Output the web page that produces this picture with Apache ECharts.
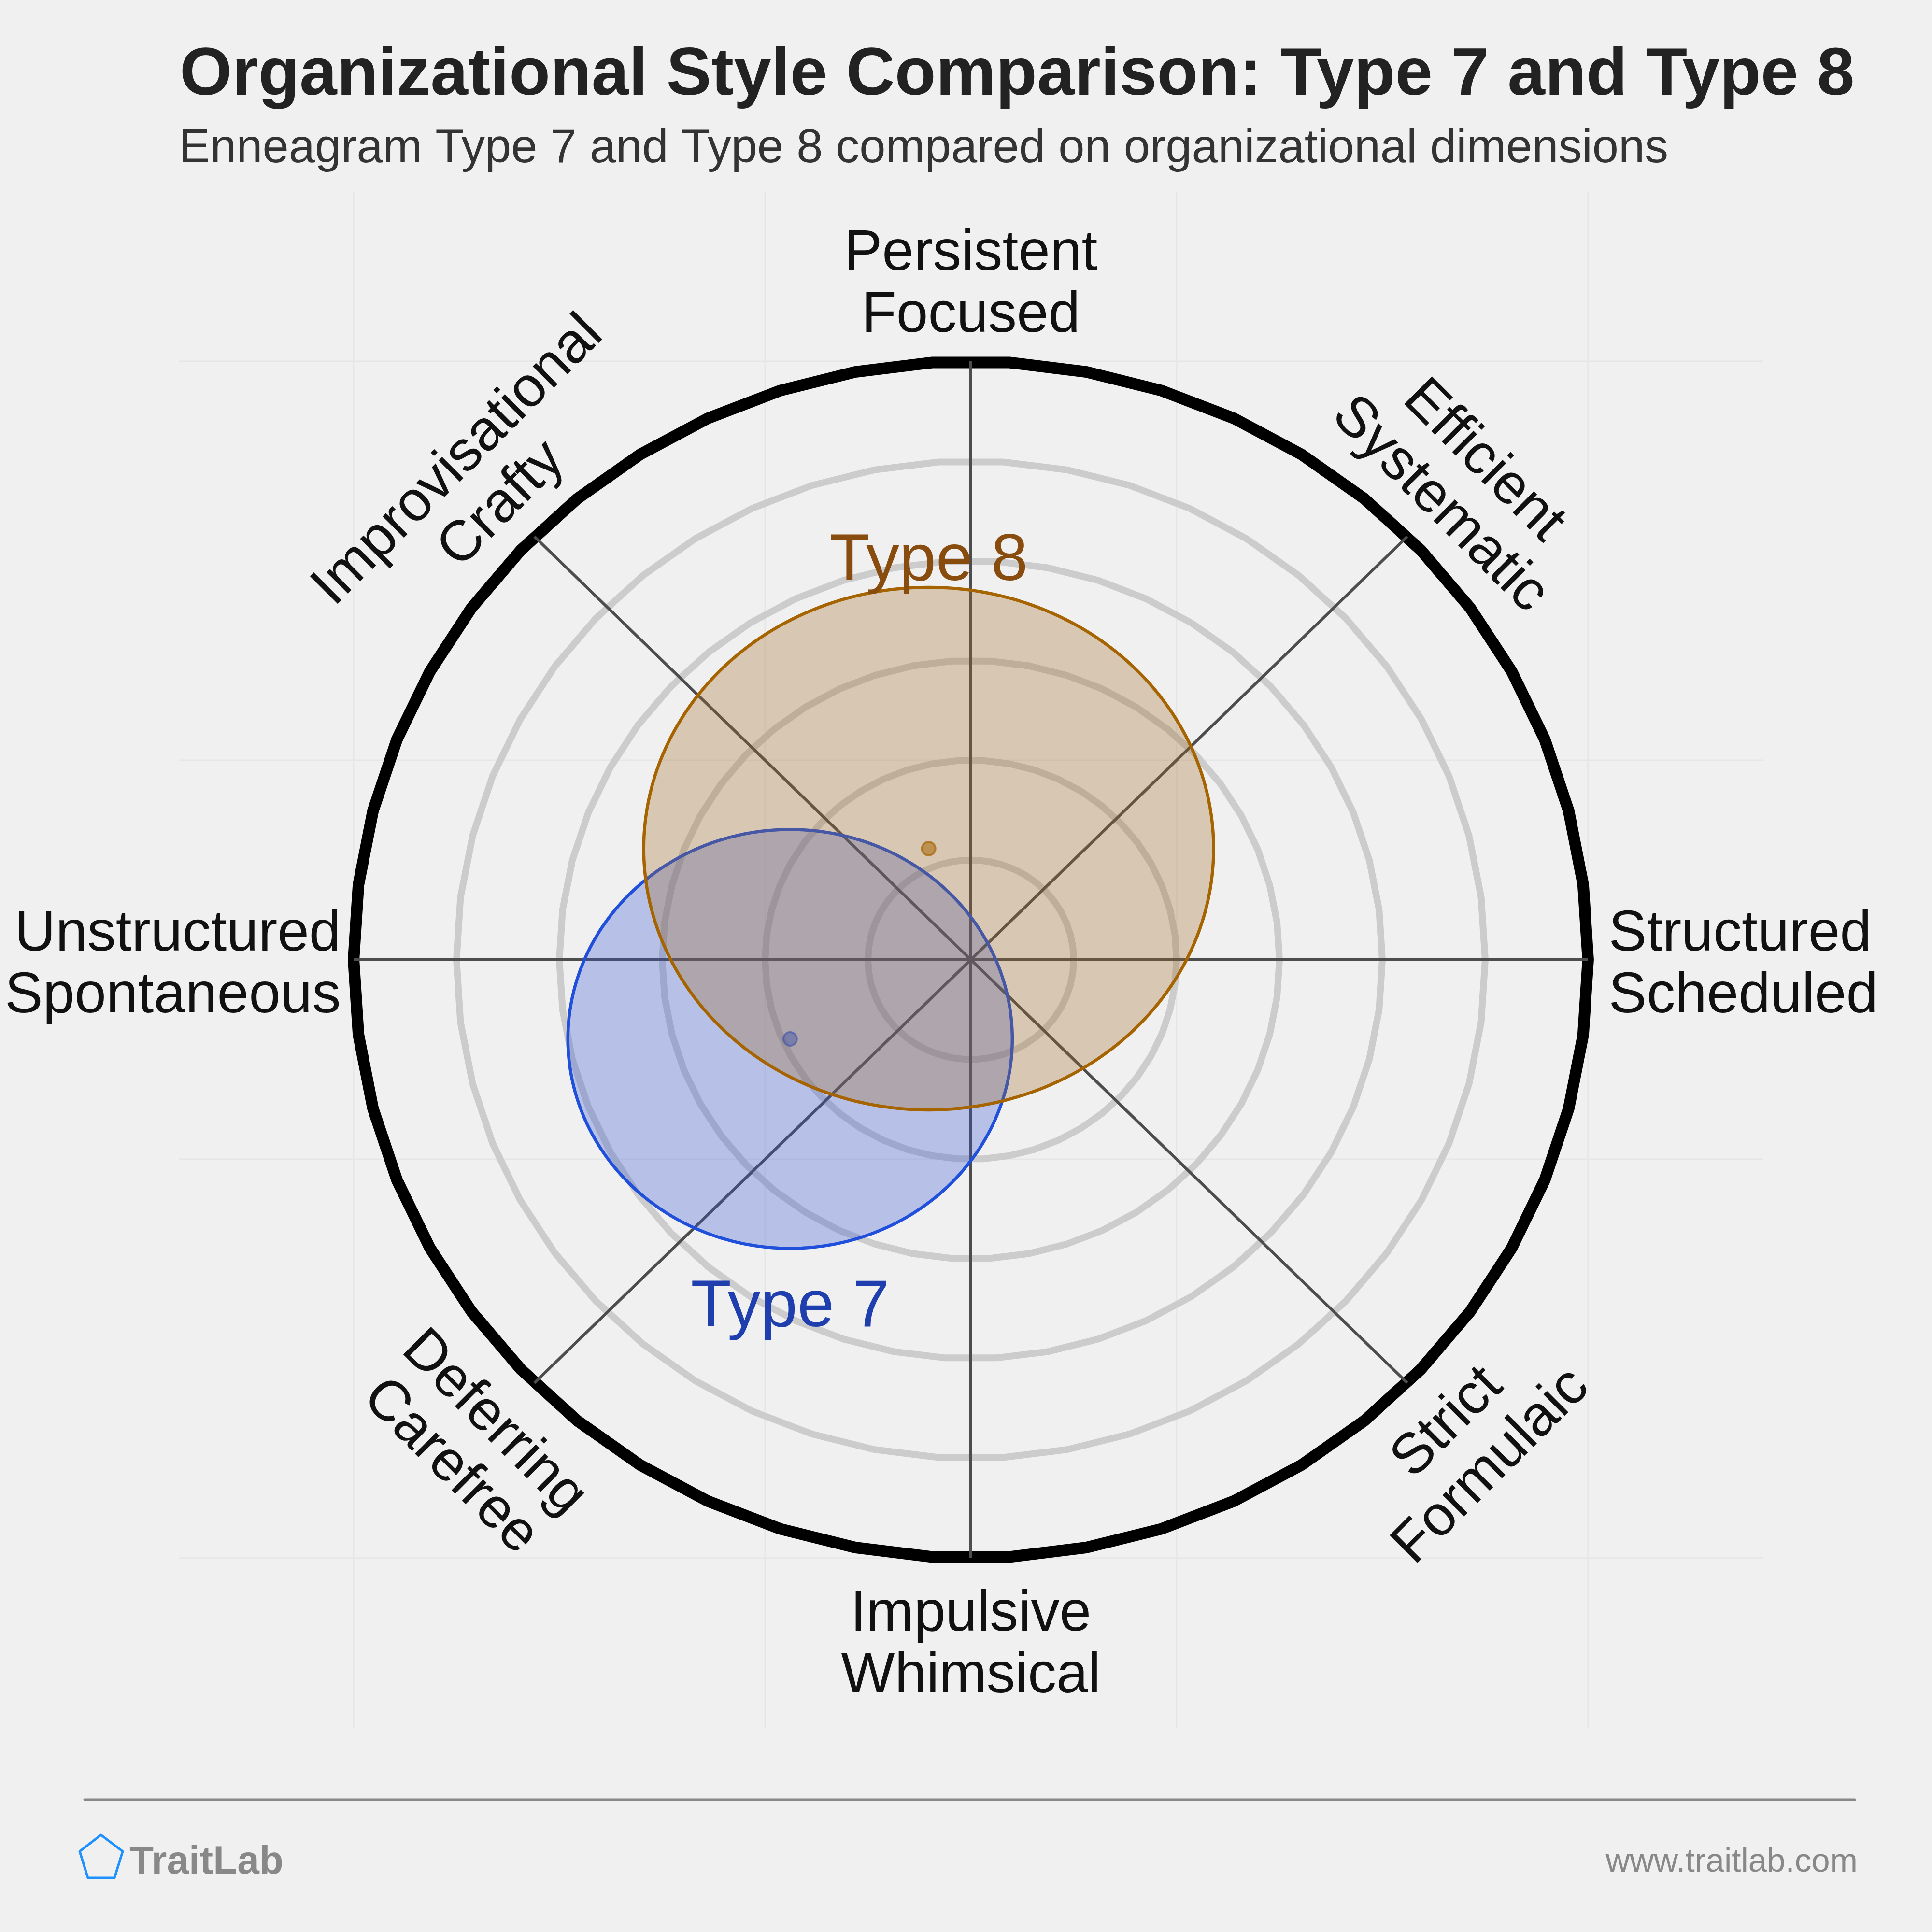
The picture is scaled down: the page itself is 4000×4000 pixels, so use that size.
<!DOCTYPE html>
<html>
<head>
<meta charset="utf-8">
<script src="https://cdn.jsdelivr.net/npm/echarts@6/dist/echarts.min.js"></script>
<style>
html,body{margin:0;padding:0;background:#f0f0f0;}
#chart{width:4000px;height:4000px;}
</style>
</head>
<body>
<div id="chart"></div>
<script>
// ---------------- data ----------------
const dimensionNames = [
  'Structured\nScheduled',
  'Efficient\nSystematic',
  'Persistent\nFocused',
  'Improvisational\nCrafty',
  'Unstructured\nSpontaneous',
  'Deferring\nCarefree',
  'Impulsive\nWhimsical',
  'Strict\nFormulaic'
];
const dimensionAngles = [0, 45, 90, 135, 180, 225, 270, 315];
const ringRadii = [1, 2, 3, 4, 5];
const outerRingRadius = [6];
const gridTickValues = [-6, -2, 2, 6];
const typeNames = ['Type 7', 'Type 8'];
const typeCenterX = [-1.757, -0.41];
const typeCenterY = [-0.794, 1.114];
const typeRadiusX = [2.16, 2.77];
const typeRadiusY = [2.10, 2.62];

// ---------------- style / layout ----------------
const AXIS_EXTENT = 7.7;
const LABEL_RADIUS = 6.2;
const RING_SEGMENTS = 50;
const TEXT_DROP = 12;
const LEFT_LABEL_NUDGE = 16;
const FONT = '"Liberation Sans", Arial, Helvetica, sans-serif';
const typeStyles = [
  {stroke: '#1f4fdb', fill: 'rgba(53,87,213,0.3)', dotFill: 'rgba(31,79,219,0.5)', dotStroke: 'rgba(31,79,219,0.65)', label: '#1f3fae', side: -1, gap: 124},
  {stroke: '#a66400', fill: 'rgba(160,107,40,0.3)', dotFill: 'rgba(166,100,0,0.55)', dotStroke: 'rgba(166,100,0,0.7)', label: '#874c0e', side: 1, gap: 53}
];

const chart = echarts.init(document.getElementById('chart'), null, {renderer: 'canvas'});

function ringRenderer(color, width) {
  return function (params, api) {
    const cx = api.value(0), cy = api.value(1), r = api.value(2);
    const pts = [];
    for (let k = 0; k < RING_SEGMENTS; k++) {
      const t = 2 * Math.PI * k / RING_SEGMENTS;
      pts.push(api.coord([cx + r * Math.cos(t), cy + r * Math.sin(t)]));
    }
    return {type: 'polygon', shape: {points: pts}, style: {fill: 'none', stroke: color, lineWidth: width}};
  };
}

function gridRenderer(params, api) {
  const v = api.value(0);
  const a = api.coord([v, -AXIS_EXTENT]), b = api.coord([v, AXIS_EXTENT]);
  const c = api.coord([-AXIS_EXTENT, v]), d = api.coord([AXIS_EXTENT, v]);
  const st = {stroke: '#e6e6e6', lineWidth: 3};
  return {type: 'group', children: [
    {type: 'line', shape: {x1: a[0], y1: a[1], x2: b[0], y2: b[1]}, style: st},
    {type: 'line', shape: {x1: c[0], y1: c[1], x2: d[0], y2: d[1]}, style: st}
  ]};
}

function axisRenderer(params, api) {
  const ang = api.value(2) * Math.PI / 180;
  const R = outerRingRadius[0];
  const s = api.coord([api.value(0), api.value(1)]);
  const e = api.coord([api.value(0) + R * Math.cos(ang), api.value(1) + R * Math.sin(ang)]);
  return {type: 'line', shape: {x1: s[0], y1: s[1], x2: e[0], y2: e[1]}, style: {stroke: '#4d4d4d', lineWidth: 6}};
}

function labelRenderer(params, api) {
  const deg = api.value(2);
  const ang = deg * Math.PI / 180;
  const p = api.coord([api.value(0) + LABEL_RADIUS * Math.cos(ang), api.value(1) + LABEL_RADIUS * Math.sin(ang)]);
  const s = Math.round(Math.sin(ang) * 1000) / 1000;
  const c = Math.round(Math.cos(ang) * 1000) / 1000;
  let align = 'center', vAlign = 'middle', rot = 0, dx = 0;
  if (s === 0) { align = c > 0 ? 'left' : 'right'; dx = c > 0 ? 0 : LEFT_LABEL_NUDGE; }
  else if (c === 0) { vAlign = s > 0 ? 'bottom' : 'top'; }
  else if (s > 0) { vAlign = 'bottom'; rot = (deg - 90) * Math.PI / 180; }
  else { vAlign = 'top'; rot = (deg - 270) * Math.PI / 180; }
  return {type: 'text', x: p[0] + dx, y: p[1], rotation: rot, style: {
    text: dimensionNames[params.dataIndex], x: 0, y: TEXT_DROP, align: align, verticalAlign: vAlign,
    fontFamily: FONT, fontSize: 118, lineHeight: 128, fill: '#111111'
  }};
}

function typeRenderer(idx) {
  const st = typeStyles[idx];
  return function (params, api) {
    const cx = api.value(0), cy = api.value(1), rx = api.value(2), ry = api.value(3);
    const pts = [];
    for (let k = 0; k < 240; k++) {
      const t = 2 * Math.PI * k / 240;
      pts.push(api.coord([cx + rx * Math.cos(t), cy + ry * Math.sin(t)]));
    }
    const ctr = api.coord([cx, cy]);
    const edge = api.coord([cx, cy + st.side * ry]);
    return {type: 'group', children: [
      {type: 'polygon', shape: {points: pts}, style: {fill: st.fill, stroke: st.stroke, lineWidth: 6.5}},
      {type: 'circle', shape: {cx: ctr[0], cy: ctr[1], r: 14}, style: {fill: st.dotFill, stroke: st.dotStroke, lineWidth: 4}},
      {type: 'text', x: ctr[0], y: edge[1] - st.side * st.gap, style: {
        text: typeNames[idx], align: 'center', verticalAlign: 'middle',
        fontFamily: FONT, fontSize: 137, fill: st.label
      }}
    ]};
  };
}

const series = [
  {type: 'custom', coordinateSystem: 'cartesian2d', z: 1, silent: true,
   data: gridTickValues.map(v => [v, v]), encode: {x: 0, y: 1}, renderItem: gridRenderer},
  {type: 'custom', coordinateSystem: 'cartesian2d', z: 2, silent: true,
   data: ringRadii.map(r => [0, 0, r]), encode: {x: 0, y: 1}, renderItem: ringRenderer('#cccccc', 14)},
  {type: 'custom', coordinateSystem: 'cartesian2d', z: 3, silent: true,
   data: outerRingRadius.map(r => [0, 0, r]), encode: {x: 0, y: 1}, renderItem: ringRenderer('#000000', 24)},
  {type: 'custom', coordinateSystem: 'cartesian2d', z: 4, silent: true,
   data: dimensionAngles.map(a => [0, 0, a]), encode: {x: 0, y: 1}, renderItem: axisRenderer}
];
typeNames.forEach((name, i) => {
  series.push({type: 'custom', name: name, coordinateSystem: 'cartesian2d', z: 5 + i, silent: true,
    data: [[typeCenterX[i], typeCenterY[i], typeRadiusX[i], typeRadiusY[i]]],
    encode: {x: 0, y: 1}, renderItem: typeRenderer(i)});
});
series.push({type: 'custom', coordinateSystem: 'cartesian2d', z: 8, silent: true,
  data: dimensionAngles.map(a => [0, 0, a]), encode: {x: 0, y: 1}, renderItem: labelRenderer});

const option = {
  backgroundColor: '#f0f0f0',
  animation: false,
  grid: {left: 370, top: 397, width: 3280, height: 3180, containLabel: false},
  xAxis: {type: 'value', min: -AXIS_EXTENT, max: AXIS_EXTENT, show: false},
  yAxis: {type: 'value', min: -AXIS_EXTENT, max: AXIS_EXTENT, show: false},
  series: series,
  graphic: [
    {type: 'text', x: 372, y: 158, style: {text: 'Organizational Style Comparison: Type 7 and Type 8',
      fontFamily: FONT, fontWeight: 'bold', fontSize: 139.5, fill: '#222222', align: 'left', verticalAlign: 'middle'}},
    {type: 'text', x: 370, y: 309, style: {text: 'Enneagram Type 7 and Type 8 compared on organizational dimensions',
      fontFamily: FONT, fontSize: 97.5, fill: '#333333', align: 'left', verticalAlign: 'middle'}},
    {type: 'line', shape: {x1: 175, y1: 3726, x2: 3840, y2: 3726}, style: {stroke: '#888888', lineWidth: 5, lineCap: 'round'}},
    {type: 'polygon', shape: {points: [[209, 3799], [254, 3833], [237, 3888], [182, 3888], [165, 3833]]},
      style: {fill: 'none', stroke: '#1e90ff', lineWidth: 5, lineJoin: 'round'}},
    {type: 'text', x: 268, y: 3856, style: {text: 'TraitLab', fontFamily: FONT, fontWeight: 'bold', fontSize: 82,
      fill: '#888888', align: 'left', verticalAlign: 'middle'}},
    {type: 'text', x: 3846, y: 3856, style: {text: 'www.traitlab.com', fontFamily: FONT, fontSize: 69,
      fill: '#888888', align: 'right', verticalAlign: 'middle'}}
  ]
};
chart.setOption(option);
</script>
</body>
</html>
